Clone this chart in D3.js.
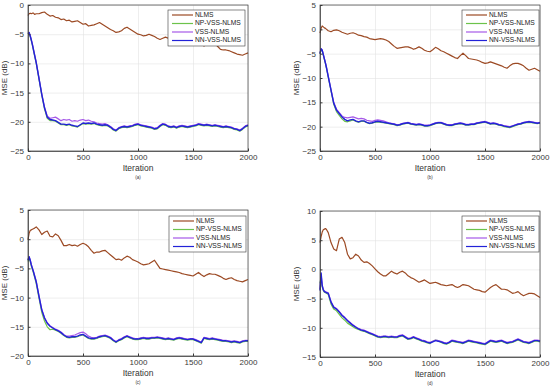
<!DOCTYPE html>
<html>
<head>
<meta charset="utf-8">
<script src="https://cdn.jsdelivr.net/npm/d3@7"></script>
<style>
body { margin: 0; background: #fff; }
svg { font-family: "Liberation Sans", Arial, sans-serif; }
</style>
</head>
<body>
<script>
// iteration grid shared by every curve
var iters = [0,10,20,30,40,50,60,75].concat(d3.range(100, 2001, 25));

var seriesNames = ['NLMS', 'NP-VSS-NLMS', 'VSS-NLMS', 'NN-VSS-NLMS'];
var seriesColors = ['#9c4a24', '#6cc34a', '#a659e8', '#2222d8'];
var xTicks = [0, 500, 1000, 1500, 2000];

// ---- (a)
var nlmsA = [-1.8,-1.5,-1.4,-1.5,-1.4,-1.4,-1.6,-1.5,
 -1.5,-1.3,-1.2,-1.6,-1.9,-1.8,-2.1,-2.2,
 -2.5,-2.4,-2.7,-2.6,-2.9,-2.8,-2.7,-3.0,
 -3.3,-3.2,-3.6,-3.5,-3.4,-3.2,-3.0,-3.3,
 -3.6,-3.9,-4.2,-4.4,-4.7,-4.6,-4.4,-4.0,
 -3.8,-4.1,-4.4,-4.7,-5.0,-5.1,-5.3,-5.2,
 -5.0,-5.2,-5.4,-5.7,-5.9,-5.7,-5.5,-5.7,
 -5.9,-6.0,-6.3,-6.4,-6.6,-6.8,-6.9,-6.8,
 -6.6,-6.4,-6.5,-6.8,-7.0,-6.8,-6.6,-6.5,
 -6.6,-7.1,-7.6,-7.7,-7.7,-7.8,-8.0,-8.2,
 -8.4,-8.5,-8.6,-8.4,-8.2];
var npA = [-5.0,-4.8,-5.4,-6.1,-6.9,-7.8,-8.7,-10.0,
 -12.7,-15.4,-17.8,-19.4,-19.8,-19.8,-19.9,-20.2,
 -20.5,-20.5,-20.6,-20.5,-20.7,-20.8,-20.9,-20.6,
 -20.3,-20.4,-20.3,-20.4,-20.3,-20.5,-20.6,-20.7,
 -20.6,-20.7,-21.0,-21.4,-21.6,-21.2,-21.0,-20.9,
 -21.0,-20.9,-20.8,-20.6,-20.5,-20.7,-20.8,-20.9,
 -21.0,-21.1,-21.3,-21.2,-20.8,-20.5,-20.6,-20.9,
 -21.0,-20.9,-21.1,-20.9,-20.8,-20.9,-21.0,-20.9,
 -20.8,-20.7,-20.5,-20.6,-20.7,-20.6,-20.7,-20.8,
 -20.7,-20.8,-20.9,-21.0,-20.9,-21.0,-21.1,-21.3,
 -21.4,-21.6,-21.3,-20.9,-20.7];
var vssA = [-4.8,-4.7,-5.2,-5.9,-6.7,-7.6,-8.5,-9.8,
 -12.5,-15.2,-17.5,-19.0,-19.4,-19.3,-19.2,-19.5,
 -19.8,-19.6,-19.7,-19.6,-19.9,-19.8,-19.9,-19.7,
 -19.6,-19.8,-19.7,-19.9,-20.0,-20.2,-20.3,-20.4,
 -20.3,-20.5,-20.8,-21.2,-21.4,-21.0,-20.8,-20.7,
 -20.8,-20.7,-20.6,-20.4,-20.3,-20.5,-20.6,-20.7,
 -20.8,-20.9,-21.1,-21.0,-20.6,-20.3,-20.4,-20.7,
 -20.8,-20.7,-20.9,-20.7,-20.6,-20.7,-20.8,-20.7,
 -20.6,-20.5,-20.3,-20.4,-20.5,-20.4,-20.5,-20.6,
 -20.5,-20.6,-20.7,-20.8,-20.7,-20.8,-20.9,-21.1,
 -21.2,-21.4,-21.1,-20.7,-20.5];
var nnA = [-4.9,-4.7,-5.3,-6.0,-6.8,-7.7,-8.6,-9.9,
 -12.6,-15.3,-17.6,-19.2,-19.6,-19.7,-19.8,-20.1,
 -20.4,-20.4,-20.5,-20.4,-20.6,-20.7,-20.8,-20.5,
 -20.2,-20.3,-20.2,-20.3,-20.2,-20.4,-20.5,-20.6,
 -20.5,-20.6,-20.9,-21.3,-21.5,-21.1,-20.9,-20.8,
 -20.9,-20.8,-20.7,-20.5,-20.4,-20.6,-20.7,-20.8,
 -20.9,-21.0,-21.2,-21.1,-20.7,-20.4,-20.5,-20.8,
 -20.9,-20.8,-21.0,-20.8,-20.7,-20.8,-20.9,-20.8,
 -20.7,-20.6,-20.4,-20.5,-20.6,-20.5,-20.6,-20.7,
 -20.6,-20.7,-20.8,-20.9,-20.8,-20.9,-21.0,-21.2,
 -21.3,-21.5,-21.2,-20.8,-20.6];

// ---- (b)
var nlmsB = [-0.8,0.2,0.7,0.5,0.3,0.2,0.0,-0.3,
 -0.5,-0.2,-0.1,-0.3,-0.6,-0.8,-1.0,-0.8,
 -0.7,-0.9,-1.2,-1.3,-1.5,-1.6,-1.9,-2.0,
 -2.1,-2.0,-1.9,-2.0,-2.2,-2.5,-3.0,-3.5,
 -3.9,-3.8,-3.7,-3.6,-3.6,-3.8,-4.1,-3.9,
 -3.6,-3.9,-4.3,-4.5,-4.6,-4.2,-3.7,-4.0,
 -4.4,-4.6,-4.9,-5.2,-5.5,-5.8,-6.0,-5.4,
 -4.9,-5.4,-6.0,-6.1,-6.2,-6.3,-6.5,-6.8,
 -7.0,-6.9,-6.7,-6.9,-7.1,-7.3,-7.5,-7.8,
 -8.0,-7.5,-7.1,-7.0,-7.0,-7.2,-7.5,-8.0,
 -8.4,-8.2,-8.0,-8.3,-8.6];
var npB = [-5.1,-4.1,-4.4,-5.3,-6.2,-7.1,-8.1,-9.8,
 -12.6,-15.4,-16.9,-17.7,-18.4,-18.9,-19.0,-18.8,
 -18.6,-18.9,-19.1,-18.9,-18.9,-19.2,-19.4,-19.3,
 -19.1,-19.0,-19.1,-19.2,-19.3,-19.4,-19.5,-19.6,
 -19.8,-19.7,-19.5,-19.4,-19.3,-19.5,-19.6,-19.7,
 -19.6,-19.7,-19.9,-19.9,-19.8,-19.6,-19.4,-19.3,
 -19.3,-19.5,-19.7,-19.8,-19.8,-19.6,-19.5,-19.4,
 -19.5,-19.7,-19.7,-19.6,-19.6,-19.4,-19.3,-19.2,
 -19.1,-19.3,-19.5,-19.4,-19.5,-19.7,-19.8,-20.0,
 -20.1,-20.2,-20.0,-19.8,-19.6,-19.5,-19.3,-19.2,
 -19.1,-19.2,-19.3,-19.4,-19.3];
var vssB = [-4.9,-4.0,-4.2,-5.1,-6.0,-6.9,-7.9,-9.6,
 -12.4,-15.0,-16.4,-17.1,-17.8,-18.1,-18.2,-18.1,
 -18.0,-18.2,-18.4,-18.3,-18.4,-18.7,-18.8,-18.9,
 -18.7,-18.6,-18.7,-18.8,-19.0,-19.2,-19.3,-19.4,
 -19.6,-19.5,-19.3,-19.2,-19.1,-19.3,-19.4,-19.5,
 -19.4,-19.5,-19.7,-19.7,-19.6,-19.4,-19.2,-19.1,
 -19.1,-19.3,-19.5,-19.6,-19.6,-19.4,-19.3,-19.2,
 -19.3,-19.5,-19.5,-19.4,-19.4,-19.2,-19.1,-19.0,
 -18.9,-19.1,-19.3,-19.2,-19.3,-19.5,-19.6,-19.8,
 -19.9,-20.0,-19.8,-19.6,-19.4,-19.3,-19.1,-19.0,
 -18.9,-19.0,-19.1,-19.2,-19.1];
var nnB = [-5.0,-4.0,-4.3,-5.2,-6.1,-7.0,-8.0,-9.7,
 -12.5,-15.2,-16.6,-17.3,-18.0,-18.5,-18.8,-18.6,
 -18.5,-18.8,-19.0,-18.8,-18.8,-19.1,-19.3,-19.2,
 -19.0,-18.9,-19.0,-19.1,-19.2,-19.3,-19.4,-19.5,
 -19.7,-19.6,-19.4,-19.3,-19.2,-19.4,-19.5,-19.6,
 -19.5,-19.6,-19.8,-19.8,-19.7,-19.5,-19.3,-19.2,
 -19.2,-19.4,-19.6,-19.7,-19.7,-19.5,-19.4,-19.3,
 -19.4,-19.6,-19.6,-19.5,-19.5,-19.3,-19.2,-19.1,
 -19.0,-19.2,-19.4,-19.3,-19.4,-19.6,-19.7,-19.9,
 -20.0,-20.1,-19.9,-19.7,-19.5,-19.4,-19.2,-19.1,
 -19.0,-19.1,-19.2,-19.3,-19.2];

// ---- (c)
var nlmsC = [-0.1,1.0,1.5,1.6,1.7,1.8,1.9,2.1,
 1.6,0.8,1.2,1.4,0.5,0.4,0.9,0.6,
 -0.2,-1.1,-1.1,-0.9,-1.1,-1.0,-1.2,-0.9,
 -0.7,-0.9,-1.3,-1.9,-2.4,-2.2,-2.2,-2.0,
 -1.9,-2.3,-2.7,-3.1,-3.5,-3.4,-3.6,-3.2,
 -2.9,-3.1,-3.5,-3.7,-3.9,-4.2,-4.4,-4.3,
 -4.2,-3.9,-3.6,-4.3,-5.0,-5.1,-5.2,-5.3,
 -5.4,-5.5,-5.6,-5.7,-5.9,-6.0,-6.1,-6.2,
 -6.3,-6.0,-5.7,-6.1,-6.4,-6.1,-5.9,-6.0,
 -6.0,-6.2,-6.4,-6.7,-6.9,-6.7,-6.6,-6.9,
 -7.1,-7.2,-7.3,-7.1,-6.9];
var npC = [-3.8,-3.3,-3.8,-4.6,-5.2,-5.8,-6.5,-7.6,
 -10.1,-12.5,-14.0,-15.0,-15.5,-15.4,-15.6,-15.8,
 -16.1,-16.5,-16.8,-16.9,-16.8,-16.8,-16.7,-16.5,
 -16.4,-16.7,-17.0,-17.1,-17.1,-17.0,-16.8,-16.7,
 -16.6,-16.8,-17.0,-17.4,-17.7,-17.4,-17.2,-16.9,
 -16.7,-16.9,-17.1,-17.2,-17.2,-17.1,-17.0,-17.1,
 -17.1,-17.0,-17.0,-16.9,-17.0,-17.1,-17.2,-17.1,
 -17.2,-17.3,-17.1,-17.0,-17.1,-17.2,-17.3,-17.2,
 -17.2,-17.4,-17.6,-17.8,-17.0,-17.1,-17.2,-17.1,
 -17.2,-17.3,-17.4,-17.5,-17.5,-17.6,-17.7,-17.6,
 -17.7,-17.8,-17.6,-17.5,-17.5];
var vssC = [-3.5,-3.0,-3.5,-4.3,-4.9,-5.5,-6.2,-7.2,
 -9.7,-12.0,-13.4,-14.3,-14.8,-15.1,-15.4,-15.6,
 -15.9,-16.3,-16.6,-16.6,-16.5,-16.4,-16.2,-16.0,
 -15.9,-16.2,-16.6,-16.8,-16.9,-16.8,-16.6,-16.5,
 -16.4,-16.6,-16.8,-17.2,-17.5,-17.2,-17.0,-16.7,
 -16.5,-16.7,-16.9,-17.0,-17.0,-16.9,-16.8,-16.9,
 -16.9,-16.8,-16.8,-16.7,-16.8,-16.9,-17.0,-16.9,
 -17.0,-17.1,-16.9,-16.8,-16.9,-17.0,-17.1,-17.0,
 -17.0,-17.2,-17.4,-17.6,-16.8,-16.9,-17.0,-16.9,
 -17.0,-17.1,-17.2,-17.3,-17.3,-17.4,-17.5,-17.4,
 -17.5,-17.6,-17.4,-17.3,-17.3];
var nnC = [-3.6,-3.0,-3.6,-4.4,-5.0,-5.6,-6.3,-7.3,
 -9.8,-12.1,-13.5,-14.4,-14.9,-15.2,-15.5,-15.7,
 -16.0,-16.4,-16.7,-16.8,-16.7,-16.7,-16.6,-16.4,
 -16.3,-16.6,-16.9,-17.0,-17.0,-16.9,-16.7,-16.6,
 -16.5,-16.7,-16.9,-17.3,-17.6,-17.3,-17.1,-16.8,
 -16.6,-16.8,-17.0,-17.1,-17.1,-17.0,-16.9,-17.0,
 -17.0,-16.9,-16.9,-16.8,-16.9,-17.0,-17.1,-17.0,
 -17.1,-17.2,-17.0,-16.9,-17.0,-17.1,-17.2,-17.1,
 -17.1,-17.3,-17.5,-17.7,-16.9,-17.0,-17.1,-17.0,
 -17.1,-17.2,-17.3,-17.4,-17.4,-17.5,-17.6,-17.5,
 -17.6,-17.7,-17.5,-17.4,-17.4];

// ---- (d)
var nlmsD = [4.6,5.6,6.4,6.8,6.9,7.0,6.8,6.3,
 4.6,3.5,3.2,5.2,5.5,4.6,2.6,1.8,
 2.0,2.6,2.3,1.6,1.2,1.3,1.0,0.6,
 0.1,-0.4,-0.8,-1.1,-1.1,-0.7,-0.3,-0.6,
 -0.8,-0.5,-0.3,-0.6,-1.1,-1.4,-1.6,-1.9,
 -2.2,-2.0,-1.8,-2.1,-2.4,-2.3,-2.2,-2.4,
 -2.6,-2.7,-2.8,-2.7,-2.6,-2.9,-3.1,-2.9,
 -2.6,-2.7,-2.8,-3.1,-3.4,-3.5,-3.6,-3.8,
 -3.9,-3.5,-3.1,-2.8,-2.6,-3.0,-3.4,-3.4,
 -3.5,-3.8,-4.1,-4.0,-3.8,-4.2,-4.5,-4.3,
 -4.1,-4.1,-4.2,-4.5,-4.8];
var npD = [-2.4,-1.5,-3.0,-3.6,-3.9,-4.0,-4.1,-4.3,
 -5.9,-6.8,-7.1,-7.7,-8.3,-8.7,-9.2,-9.5,
 -9.8,-10.1,-10.3,-10.5,-10.6,-10.8,-11.0,-11.2,
 -11.4,-11.6,-11.7,-11.6,-11.6,-11.7,-11.6,-11.7,
 -11.7,-11.5,-11.4,-11.7,-12.0,-11.9,-11.7,-11.9,
 -12.1,-12.3,-12.4,-12.6,-12.7,-12.3,-12.1,-12.2,
 -12.5,-12.7,-12.8,-12.6,-12.3,-12.4,-12.5,-12.6,
 -12.7,-12.5,-12.3,-12.4,-12.5,-12.6,-12.7,-12.8,
 -12.9,-12.6,-12.3,-12.4,-12.5,-12.4,-12.3,-12.5,
 -12.7,-12.6,-12.5,-12.3,-12.1,-12.3,-12.5,-12.6,
 -12.7,-12.5,-12.3,-12.3,-12.4];
var vssD = [-3.4,-0.8,-2.7,-3.4,-3.7,-3.8,-3.9,-4.0,
 -5.5,-6.4,-6.7,-7.2,-7.8,-8.2,-8.7,-9.1,
 -9.5,-9.8,-10.1,-10.3,-10.4,-10.6,-10.8,-11.0,
 -11.2,-11.4,-11.5,-11.4,-11.4,-11.5,-11.4,-11.5,
 -11.5,-11.3,-11.2,-11.5,-11.8,-11.7,-11.5,-11.7,
 -11.9,-12.1,-12.2,-12.4,-12.5,-12.3,-12.1,-12.2,
 -12.3,-12.5,-12.6,-12.4,-12.1,-12.2,-12.3,-12.4,
 -12.5,-12.3,-12.1,-12.2,-12.3,-12.4,-12.5,-12.6,
 -12.7,-12.4,-12.1,-12.2,-12.3,-12.2,-12.1,-12.3,
 -12.5,-12.4,-12.3,-12.1,-11.9,-12.1,-12.3,-12.4,
 -12.5,-12.3,-12.1,-12.1,-12.2];
var nnD = [-3.6,-0.6,-2.8,-3.5,-3.8,-3.9,-4.0,-4.1,
 -5.6,-6.5,-6.8,-7.3,-7.9,-8.3,-8.8,-9.2,
 -9.6,-9.9,-10.2,-10.4,-10.5,-10.7,-10.9,-11.1,
 -11.3,-11.5,-11.6,-11.5,-11.5,-11.6,-11.5,-11.6,
 -11.6,-11.4,-11.3,-11.6,-11.9,-11.8,-11.6,-11.8,
 -12.0,-12.2,-12.3,-12.5,-12.6,-12.4,-12.2,-12.3,
 -12.4,-12.6,-12.7,-12.5,-12.2,-12.3,-12.4,-12.5,
 -12.6,-12.4,-12.2,-12.3,-12.4,-12.5,-12.6,-12.7,
 -12.8,-12.5,-12.2,-12.3,-12.4,-12.3,-12.2,-12.4,
 -12.6,-12.5,-12.4,-12.2,-12.0,-12.2,-12.4,-12.5,
 -12.6,-12.4,-12.2,-12.2,-12.3];

var panels = [
  { left: 28,  top: 5,   yMin: -25, yMax: 0,  tag: '(a)', legX: 168, legY: 10,  data: [nlmsA, npA, vssA, nnA] },
  { left: 320, top: 5,   yMin: -25, yMax: 5,  tag: '(b)', legX: 462, legY: 10,  data: [nlmsB, npB, vssB, nnB] },
  { left: 28,  top: 210, yMin: -20, yMax: 5,  tag: '(c)', legX: 169, legY: 216, data: [nlmsC, npC, vssC, nnC] },
  { left: 320, top: 211, yMin: -15, yMax: 10, tag: '(d)', legX: 462, legY: 216, data: [nlmsD, npD, vssD, nnD] }
];

var W = 220, H = 146;
var fmt = d3.format("d");

var svg = d3.select("body").append("svg")
      .attr("width", 550)
      .attr("height", 388);

panels.forEach(function(p){
  var x = d3.scaleLinear().domain([0, 2000]).range([0, W]);
  var y = d3.scaleLinear().domain([p.yMin, p.yMax]).range([H, 0]);
  var yTicks = d3.range(p.yMin, p.yMax + 1, 5);

  var g = svg.append("g").attr("transform", "translate(" + p.left + "," + p.top + ")");

  // grid
  g.append("g")
    .attr("transform", "translate(0," + H + ")")
    .call(d3.axisBottom(x).tickValues(xTicks).tickSize(-H).tickFormat(""))
    .call(function(s){ s.select(".domain").remove(); s.selectAll("line").attr("stroke", "#e3e3e3").attr("stroke-width", 0.6); });
  g.append("g")
    .call(d3.axisLeft(y).tickValues(yTicks).tickSize(-W).tickFormat(""))
    .call(function(s){ s.select(".domain").remove(); s.selectAll("line").attr("stroke", "#e3e3e3").attr("stroke-width", 0.6); });

  // curves
  var line = d3.line()
    .x(function(d, i){ return x(iters[i]); })
    .y(function(d){ return y(d); });

  p.data.forEach(function(vals, k){
    g.append("path")
      .datum(vals)
      .attr("fill", "none")
      .attr("stroke", seriesColors[k])
      .attr("stroke-width", k == 3 ? 1.4 : 1.2)
      .attr("stroke-linejoin", "round")
      .attr("d", line);
  });

  // axes
  var xAxis = g.append("g")
    .attr("transform", "translate(0," + H + ")")
    .call(d3.axisBottom(x).tickValues(xTicks).tickFormat(fmt).tickSize(-2.5).tickPadding(3).tickSizeOuter(0));
  var yAxis = g.append("g")
    .call(d3.axisLeft(y).tickValues(yTicks).tickFormat(fmt).tickSize(-2.5).tickPadding(4).tickSizeOuter(0));
  [xAxis, yAxis].forEach(function(a){
    a.attr("font-family", null).attr("font-size", 8).attr("color", "#3a3a3a");
    a.select(".domain").attr("stroke-width", 0.7);
  });

  g.append("rect")
    .attr("width", W).attr("height", H)
    .attr("fill", "none")
    .attr("stroke", "#3a3a3a")
    .attr("stroke-width", 0.7);

  // labels
  g.append("text")
    .attr("x", W / 2).attr("y", H + 20)
    .attr("text-anchor", "middle")
    .attr("font-size", 8.5)
    .attr("fill", "#333")
    .text("Iteration");
  g.append("text")
    .attr("x", W / 2).attr("y", H + 28)
    .attr("text-anchor", "middle")
    .attr("font-size", 4.5)
    .attr("fill", "#333")
    .text(p.tag);
  g.append("text")
    .attr("transform", "translate(-21," + (H / 2) + ") rotate(-90)")
    .attr("text-anchor", "middle")
    .attr("font-size", 8)
    .attr("fill", "#333")
    .text("MSE (dB)");

  // legend
  var leg = svg.append("g").attr("transform", "translate(" + p.legX + "," + p.legY + ")");
  leg.append("rect")
    .attr("width", 77).attr("height", 36)
    .attr("fill", "#fff")
    .attr("stroke", "#3a3a3a")
    .attr("stroke-width", 0.6);
  seriesNames.forEach(function(n, k){
    var yy = 5 + k * 8.5;
    leg.append("line")
      .attr("x1", 4).attr("x2", 25)
      .attr("y1", yy).attr("y2", yy)
      .attr("stroke", seriesColors[k])
      .attr("stroke-width", 1.2);
    leg.append("text")
      .attr("x", 27).attr("y", yy)
      .attr("dominant-baseline", "middle")
      .attr("font-size", 6.7)
      .attr("fill", "#222")
      .text(n);
  });
});
</script>
</body>
</html>
